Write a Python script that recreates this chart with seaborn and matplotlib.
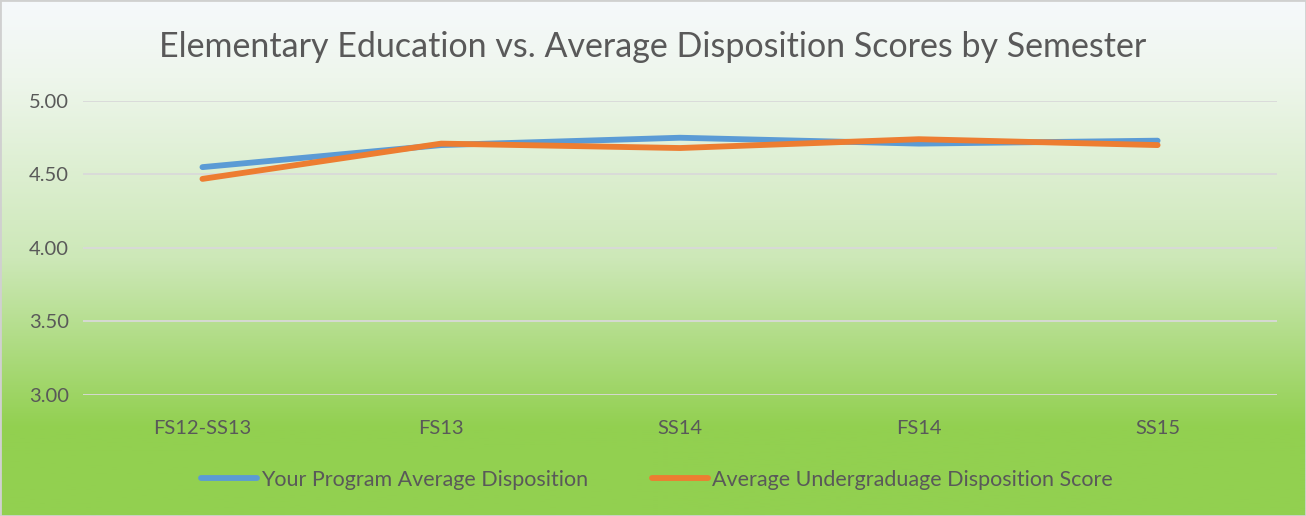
import numpy as np
import pandas as pd
import matplotlib
matplotlib.use("Agg")
import matplotlib.pyplot as plt
import seaborn as sns
from matplotlib.colors import LinearSegmentedColormap
from matplotlib.patches import Rectangle

semesters = ["FS12-SS13", "FS13", "SS14", "FS14", "SS15"]
program_avg = [4.55, 4.70, 4.75, 4.71, 4.73]
undergrad_avg = [4.47, 4.71, 4.68, 4.74, 4.70]
series_names = ["Your Program Average Disposition", "Average Undergraduage Disposition Score"]
y_ticks = [3.00, 3.50, 4.00, 4.50, 5.00]
title = "Elementary Education vs. Average Disposition Scores by Semester"

df = pd.DataFrame({
    "Semester": semesters * 2,
    "Score": program_avg + undergrad_avg,
    "Series": [series_names[0]] * len(semesters) + [series_names[1]] * len(semesters),
})

sns.set_theme(style="white")
plt.rcParams["font.family"] = ["Lato", "DejaVu Sans"]
text_color = "#595959"

fig = plt.figure(figsize=(13.06, 5.16), dpi=100)

# gradient background
bg = fig.add_axes([0, 0, 1, 1], zorder=-10)
cmap = LinearSegmentedColormap.from_list("g", [(0, "#f6f9fc"), (0.15, "#eef6ec"), (0.5, "#cde8b8"), (0.83, "#92d050"), (1, "#92d050")])
grad = np.linspace(0, 1, 256).reshape(-1, 1)
bg.imshow(grad, aspect="auto", cmap=cmap, extent=[0, 1, 0, 1], origin="upper")
bg.set_axis_off()
bg.add_patch(Rectangle((0, 0), 1, 1, transform=bg.transAxes, fill=False, edgecolor="#d0d0d0", linewidth=2))

ax = fig.add_axes([0.0636, 0.2345, 0.9142, 0.5698])
ax.set_facecolor("none")
sns.lineplot(data=df, x="Semester", y="Score", hue="Series", sort=False,
             palette=["#5b9bd5", "#ed7d31"], linewidth=4.2, ax=ax, legend=True)
for ln in ax.get_lines():
    ln.set_solid_capstyle("round")

ax.set_xlim(-0.5, len(semesters) - 0.5)
ax.set_ylim(3.0, 5.0)
ax.set_yticks(y_ticks)
ax.set_yticklabels([f"{v:.2f}" for v in y_ticks])
ax.yaxis.grid(True, color="#d9d9d9", linewidth=1.3)
ax.xaxis.grid(False)
ax.set_axisbelow(True)
for s in ax.spines.values():
    s.set_visible(False)
ax.tick_params(axis="both", length=0, labelsize=14.5, labelcolor=text_color)
ax.tick_params(axis="y", pad=10)
ax.tick_params(axis="x", pad=18)
ax.set_xlabel("")
ax.set_ylabel("")

handles, labels = ax.get_legend_handles_labels()
for h in handles:
    h.set_solid_capstyle("round")
ax.legend_.remove()
fig.legend(handles, labels, loc="center", bbox_to_anchor=(0.503, 0.07), ncol=2,
           frameon=False, fontsize=15.5, labelcolor=text_color, handlelength=2.6,
           handletextpad=0.15, columnspacing=3.0)

fig.text(0.5, 0.908, title, ha="center", va="center", fontsize=24.5, color=text_color)

fig.savefig("out.png", dpi=100)
